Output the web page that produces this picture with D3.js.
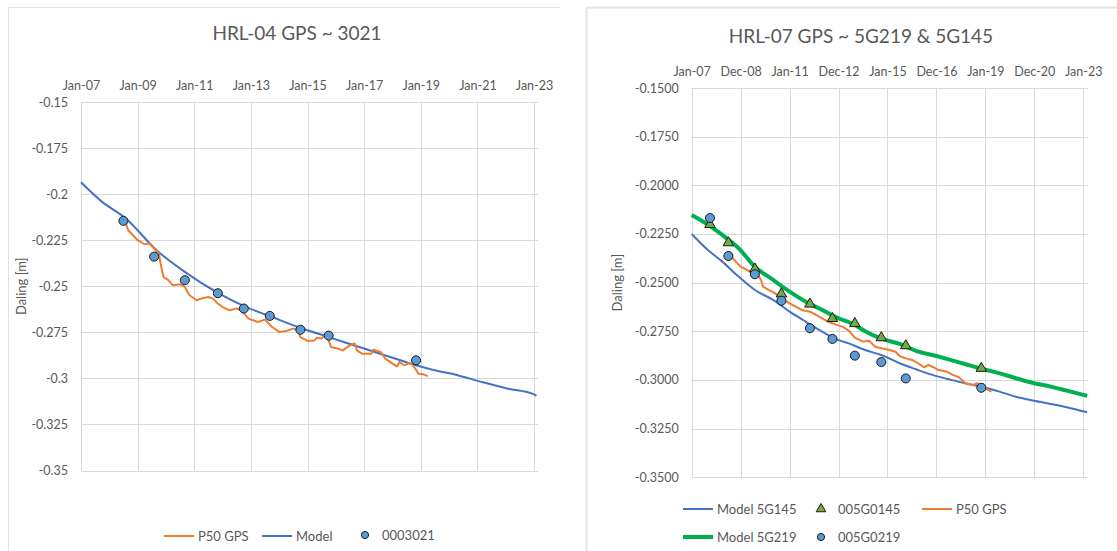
<!DOCTYPE html>
<html>
<head>
<meta charset="utf-8">
<script src="https://cdn.jsdelivr.net/npm/d3@7"></script>
<style>
    body { margin: 0; background: #fff; }
    svg { font-family: Lato, "Open Sans", sans-serif; }
</style>
</head>
<body>
<svg id="chart" width="1117" height="551"></svg>
<script>
// ---- HRL-04 (links) ----
var hrl04Ticks = ["2007-01-01", "2009-01-01", "2011-01-01", "2013-01-01", "2015-01-01",
    "2017-01-01", "2019-01-01", "2021-01-01", "2023-01-01"];
var hrl04YTicks = [-0.15, -0.175, -0.2, -0.225, -0.25, -0.275, -0.3, -0.325, -0.35];

var hrl04Model = [
    ["2007-01", -0.1935], ["2007-10", -0.2042], ["2008-08", -0.2132], ["2009-09", -0.2304],
    ["2010-09", -0.2422], ["2011-11", -0.2536], ["2012-11", -0.2613], ["2013-10", -0.2667],
    ["2014-09", -0.2721], ["2015-10", -0.2776], ["2016-11", -0.2830], ["2017-12", -0.2884],
    ["2018-11", -0.2929], ["2019-06", -0.2953], ["2020-05", -0.2984], ["2021-03", -0.3020],
    ["2022-02", -0.3056], ["2023-01", -0.3087], ["2023-02", -0.3095]
];

var hrl04Gps = [
    ["2008-07", -0.2147], ["2008-08", -0.2159], ["2008-09", -0.2196], ["2009-01", -0.2250],
    ["2009-04", -0.2272], ["2009-06", -0.2268], ["2009-08", -0.2295], ["2009-10", -0.2322],
    ["2009-11", -0.2395], ["2009-12", -0.2450], ["2010-02", -0.2467], ["2010-04", -0.2495],
    ["2010-07", -0.2489], ["2010-09", -0.2504], ["2010-11", -0.2549], ["2011-02", -0.2576],
    ["2011-04", -0.2567], ["2011-07", -0.2558], ["2011-09", -0.2567], ["2011-11", -0.2594],
    ["2012-01", -0.2613], ["2012-04", -0.2631], ["2012-07", -0.2621], ["2012-09", -0.2631],
    ["2012-12", -0.2676], ["2013-04", -0.2694], ["2013-07", -0.2681], ["2013-10", -0.2721],
    ["2014-01", -0.2748], ["2014-04", -0.2743], ["2014-07", -0.2730], ["2014-09", -0.2739],
    ["2014-10", -0.2776], ["2015-01", -0.2797], ["2015-04", -0.2794], ["2015-05", -0.2779],
    ["2015-07", -0.2784], ["2015-09", -0.2757], ["2015-10", -0.2794], ["2015-11", -0.2830],
    ["2016-02", -0.2839], ["2016-04", -0.2848], ["2016-07", -0.2821], ["2016-09", -0.2811],
    ["2016-10", -0.2848], ["2016-12", -0.2866], ["2017-04", -0.2866], ["2017-05", -0.2844],
    ["2017-08", -0.2857], ["2017-10", -0.2893], ["2018-01", -0.2920], ["2018-03", -0.2935],
    ["2018-04", -0.2911], ["2018-06", -0.2929], ["2018-08", -0.2917], ["2018-09", -0.2920],
    ["2018-11", -0.2953], ["2018-12", -0.2975], ["2019-02", -0.2978], ["2019-04", -0.2988]
];

var hrl04Points = [
    ["2008-07", -0.2145], ["2009-08", -0.2339], ["2010-09", -0.2467], ["2011-11", -0.2538],
    ["2012-10", -0.2621], ["2013-09", -0.2661], ["2014-10", -0.2736], ["2015-10", -0.2768],
    ["2018-11", -0.2902]
];

// ---- HRL-07 (rechts) ----
var hrl07Ticks = ["2007-01-01", "2008-12-31", "2011-01-01", "2012-12-31", "2015-01-01",
    "2016-12-31", "2019-01-01", "2020-12-31", "2023-01-01"];
var hrl07YTicks = [-0.15, -0.175, -0.2, -0.225, -0.25, -0.275, -0.3, -0.325, -0.35];

var model5G145 = [
    ["2007-01", -0.2250], ["2007-08", -0.2323], ["2008-04", -0.2392], ["2008-12", -0.2469],
    ["2009-08", -0.2538], ["2010-05", -0.2589], ["2011-01", -0.2649], ["2011-09", -0.2701],
    ["2012-05", -0.2752], ["2013-01", -0.2795], ["2013-06", -0.2812], ["2014-02", -0.2846],
    ["2014-10", -0.2872], ["2015-07", -0.2914], ["2016-03", -0.2945], ["2016-11", -0.2974],
    ["2017-07", -0.2996], ["2018-03", -0.3017], ["2018-12", -0.3037], ["2019-08", -0.3060],
    ["2020-04", -0.3086], ["2020-11", -0.3103], ["2021-09", -0.3123], ["2022-05", -0.3140],
    ["2023-03", -0.3166]
];

var model5G219 = [
    ["2007-01", -0.2152], ["2007-08", -0.2195], ["2008-04", -0.2255], ["2008-12", -0.2323],
    ["2009-08", -0.2418], ["2010-05", -0.2486], ["2011-01", -0.2546], ["2011-09", -0.2598],
    ["2012-05", -0.2640], ["2013-01", -0.2683], ["2013-09", -0.2717], ["2014-02", -0.2750],
    ["2014-10", -0.2788], ["2015-07", -0.2815], ["2016-03", -0.2850], ["2017-01", -0.2877],
    ["2017-07", -0.2894], ["2018-03", -0.2918], ["2018-12", -0.2945], ["2019-08", -0.2966],
    ["2020-04", -0.2991], ["2020-12", -0.3014], ["2021-09", -0.3034], ["2022-05", -0.3055],
    ["2023-03", -0.3082]
];

var hrl07Gps = [
    ["2008-07", -0.2341], ["2008-08", -0.2358], ["2008-10", -0.2384], ["2008-11", -0.2397],
    ["2009-01", -0.2418], ["2009-04", -0.2435], ["2009-06", -0.2444], ["2009-09", -0.2452],
    ["2009-11", -0.2486], ["2009-12", -0.2521], ["2010-03", -0.2538], ["2010-06", -0.2555],
    ["2010-09", -0.2580], ["2011-01", -0.2606], ["2011-04", -0.2623], ["2011-07", -0.2640],
    ["2011-11", -0.2649], ["2012-02", -0.2666], ["2012-05", -0.2683], ["2012-08", -0.2701],
    ["2012-12", -0.2717], ["2013-03", -0.2726], ["2013-06", -0.2746], ["2013-09", -0.2782],
    ["2014-01", -0.2803], ["2014-04", -0.2798], ["2014-07", -0.2829], ["2014-10", -0.2837],
    ["2015-02", -0.2846], ["2015-05", -0.2855], ["2015-07", -0.2877], ["2015-10", -0.2889],
    ["2016-01", -0.2897], ["2016-04", -0.2914], ["2016-07", -0.2935], ["2016-09", -0.2923],
    ["2016-11", -0.2932], ["2017-02", -0.2949], ["2017-06", -0.2957], ["2017-09", -0.2974],
    ["2017-12", -0.2986], ["2018-03", -0.3014], ["2018-05", -0.3022], ["2018-07", -0.3026],
    ["2018-09", -0.3017], ["2018-11", -0.3034], ["2019-01", -0.3043], ["2019-03", -0.3055],
    ["2019-04", -0.3060]
];

var points5G0145 = [
    ["2007-10", -0.2201], ["2008-07", -0.2295], ["2009-08", -0.2430], ["2010-09", -0.2558],
    ["2011-11", -0.2610], ["2012-10", -0.2684], ["2013-09", -0.2710], ["2014-10", -0.2783],
    ["2015-10", -0.2824], ["2018-11", -0.2940]
];

var points5G0219 = [
    ["2007-10", -0.2168], ["2008-07", -0.2363], ["2009-08", -0.2457], ["2010-09", -0.2593],
    ["2011-11", -0.2734], ["2012-10", -0.2789], ["2013-09", -0.2875], ["2014-10", -0.2908],
    ["2015-10", -0.2992], ["2018-11", -0.3040]
];

// kleuren (Excel)
var cOrange = "#ED7D31", cBlue = "#4472C4", cGreen = "#00B050";
var cDot = "#5B9BD5", cTri = "#70AD47";
var cGrid = "#D9D9D9", cText = "#595959";

var parseMonth = d3.timeParse("%Y-%m");
var parseDay = d3.timeParse("%Y-%m-%d");
var fmtTick = d3.timeFormat("%b-%y");

var svg = d3.select("#chart");

// kaders
svg.append("path")
    .attr("d", "M8.5,551 V7.5 H560")
    .attr("fill", "none").attr("stroke", "#e3e3e3").attr("stroke-width", 1);
svg.append("path")
    .attr("d", "M586.5,551 V7.5 H1117")
    .attr("fill", "none").attr("stroke", "#e3e3e3").attr("stroke-width", 2);

function drawPanel(p) {
    var x = d3.scaleTime()
        .domain([parseDay("2007-01-01"), parseDay(p.endDate)])
        .range([p.left, p.right]);
    var y = d3.scaleLinear()
        .domain([-0.15, -0.35])
        .range([p.top, p.bottom]);

    var g = svg.append("g");

    // title
    g.append("text")
        .attr("x", p.titleX).attr("y", p.titleY)
        .attr("text-anchor", "middle")
        .style("font-size", "19px").style("fill", cText)
        .text(p.title);

    // grid
    g.selectAll(".hgrid")
        .data(p.yTicks)
        .enter().append("line")
        .attr("x1", p.left).attr("x2", p.right)
        .attr("y1", function(d) { return Math.round(y(d)) + 0.5; })
        .attr("y2", function(d) { return Math.round(y(d)) + 0.5; })
        .attr("stroke", cGrid);
    g.selectAll(".vgrid")
        .data(p.xTicks)
        .enter().append("line")
        .attr("x1", function(d) { return Math.round(x(parseDay(d))) + 0.5; })
        .attr("x2", function(d) { return Math.round(x(parseDay(d))) + 0.5; })
        .attr("y1", p.top).attr("y2", p.bottom)
        .attr("stroke", cGrid);

    // x axis (boven)
    var xa = g.append("g")
        .attr("transform", "translate(0," + p.top + ")")
        .call(d3.axisTop(x)
            .tickValues(p.xTicks.map(function(d) { return parseDay(d); }))
            .tickFormat(fmtTick)
            .tickSize(0)
            .tickPadding(12));
    xa.select(".domain").remove();

    // y axis
    var ya = g.append("g")
        .attr("transform", "translate(" + p.left + ",0)")
        .call(d3.axisLeft(y)
            .tickValues(p.yTicks)
            .tickFormat(p.yFormat)
            .tickSize(0)
            .tickPadding(13));
    ya.select(".domain").remove();

    g.selectAll(".tick text")
        .style("font-family", "Lato, 'Open Sans', sans-serif")
        .style("font-size", "12.5px")
        .style("fill", cText);

    g.append("text")
        .attr("transform", "translate(" + p.yLabelX + "," + ((p.top + p.bottom) / 2) + ") rotate(-90)")
        .attr("text-anchor", "middle")
        .style("font-size", "13px").style("fill", cText)
        .text("Daling [m]");

    var line = d3.line()
        .x(function(d) { return x(parseMonth(d[0])); })
        .y(function(d) { return y(d[1]); });
    var smooth = d3.line()
        .curve(d3.curveMonotoneX)
        .x(function(d) { return x(parseMonth(d[0])); })
        .y(function(d) { return y(d[1]); });

    p.series.forEach(function(s) {
        if (s.type === "line") {
            g.append("path")
                .datum(s.data)
                .attr("d", s.smooth ? smooth : line)
                .attr("fill", "none")
                .attr("stroke", s.color)
                .attr("stroke-width", s.width)
                .attr("stroke-linejoin", "round");
        } else {
            g.selectAll(null)
                .data(s.data)
                .enter().append("path")
                .attr("transform", function(d) {
                    return "translate(" + x(parseMonth(d[0])) + "," + y(d[1]) + ")";
                })
                .attr("d", d3.symbol(s.symbol === "triangle" ? d3.symbolTriangle : d3.symbolCircle, s.symbol === "triangle" ? 48 : 64))
                .attr("fill", s.color)
                .attr("stroke", "#1a1a1a")
                .attr("stroke-width", 1);
        }
    });

    // legend
    p.legend.forEach(function(l) {
        var lg = g.append("g").attr("transform", "translate(" + l.x + "," + l.y + ")");
        if (l.type === "line") {
            lg.append("line")
                .attr("x1", 0).attr("x2", 30).attr("y1", 0).attr("y2", 0)
                .attr("stroke", l.color).attr("stroke-width", l.width);
            lg.append("text").attr("x", 34).attr("y", 4.5)
                .style("font-size", "13px").style("fill", cText).text(l.label);
        } else {
            lg.append("path")
                .attr("transform", "translate(6,0)")
                .attr("d", d3.symbol(l.symbol === "triangle" ? d3.symbolTriangle : d3.symbolCircle, 40))
                .attr("fill", l.color).attr("stroke", "#1a1a1a").attr("stroke-width", 1);
            lg.append("text").attr("x", 23).attr("y", 4.5)
                .style("font-size", "13px").style("fill", cText).text(l.label);
        }
    });
}

drawPanel({
    title: "HRL-04 GPS ~ 3021", titleX: 297, titleY: 40,
    left: 81, right: 538, top: 102, bottom: 470.5, endDate: "2023-02-21",
    xTicks: hrl04Ticks, yTicks: hrl04YTicks,
    yFormat: function(d) { return String(d); },
    yLabelX: 26,
    series: [
        { type: "line", data: hrl04Model, color: cBlue, width: 2, smooth: true },
        { type: "line", data: hrl04Gps, color: cOrange, width: 2 },
        { type: "points", data: hrl04Points, color: cDot, symbol: "circle" }
    ],
    legend: [
        { type: "line", x: 164, y: 536, color: cOrange, width: 2, label: "P50 GPS" },
        { type: "line", x: 262, y: 536, color: cBlue, width: 2, label: "Model" },
        { type: "point", x: 359, y: 535, color: cDot, symbol: "circle", label: "0003021" }
    ]
});

drawPanel({
    title: "HRL-07 GPS ~ 5G219 & 5G145", titleX: 861, titleY: 43,
    left: 691.7, right: 1088.3, top: 88, bottom: 477.3, endDate: "2023-03-17",
    xTicks: hrl07Ticks, yTicks: hrl07YTicks,
    yFormat: function(d) { return d.toFixed(4); },
    yLabelX: 622,
    series: [
        { type: "line", data: model5G145, color: cBlue, width: 2, smooth: true },
        { type: "line", data: model5G219, color: cGreen, width: 4, smooth: true },
        { type: "line", data: hrl07Gps, color: cOrange, width: 2 },
        { type: "points", data: points5G0145, color: cTri, symbol: "triangle" },
        { type: "points", data: points5G0219, color: cDot, symbol: "circle" }
    ],
    legend: [
        { type: "line", x: 683, y: 509, color: cBlue, width: 2, label: "Model 5G145" },
        { type: "point", x: 815, y: 509, color: cTri, symbol: "triangle", label: "005G0145" },
        { type: "line", x: 922, y: 509, color: cOrange, width: 2, label: "P50 GPS" },
        { type: "line", x: 683, y: 537, color: cGreen, width: 4, label: "Model 5G219" },
        { type: "point", x: 815, y: 537, color: cDot, symbol: "circle", label: "005G0219" }
    ]
});
</script>
</body>
</html>
